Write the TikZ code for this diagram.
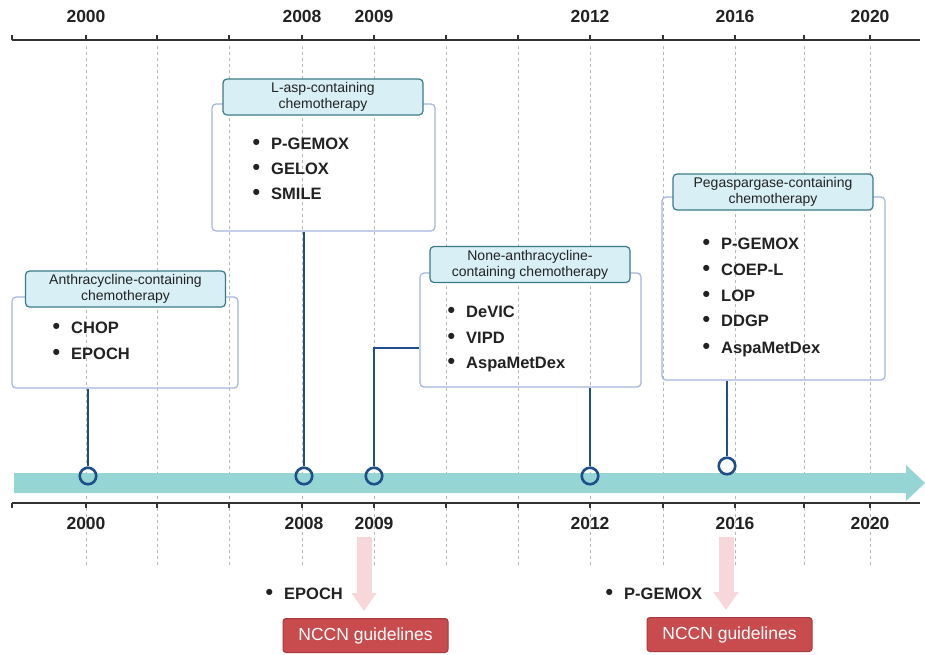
\documentclass[tikz,border=0pt]{standalone}
\usepackage{fontspec}
\setmainfont{Liberation Sans}
\usetikzlibrary{calc,arrows.meta}
\definecolor{barteal}{HTML}{95D5D3}
\definecolor{stemblue}{HTML}{1E4F8A}
\definecolor{boxline}{HTML}{A3B5DC}
\definecolor{headfill}{HTML}{D8EFF5}
\definecolor{headline}{HTML}{3B7B86}
\definecolor{gridgray}{HTML}{B8B8B8}
\definecolor{axisdark}{HTML}{333333}
\definecolor{txt}{HTML}{222222}
\definecolor{pinkarr}{HTML}{F8D7DA}
\definecolor{nccnfill}{HTML}{C84B4E}
\definecolor{nccnline}{HTML}{A8393C}
\begin{document}
\begin{tikzpicture}[x=1pt,y=-1pt,
  gridline/.style={gridgray, line width=0.8pt, dash pattern=on 3pt off 3pt},
  axisline/.style={axisdark, line width=1.4pt},
  year/.style={anchor=base, text=txt, font=\bfseries\fontsize{17.5}{20}\selectfont, inner sep=0pt},
  stem/.style={stemblue, line width=2.8pt},
  dot/.style={circle, draw=stemblue, line width=2.6pt, minimum size=16.5pt, inner sep=0pt},
  groupbox/.style={draw=boxline, line width=1.2pt, rounded corners=4pt, inner sep=0pt},
  headbox/.style={draw=headline, fill=headfill, line width=1.2pt, rounded corners=4pt, inner sep=0pt,
     minimum width=200pt, minimum height=36pt, align=center, text=txt,
     font=\fontsize{14}{16}\selectfont},
  item/.style={anchor=base west, text=txt, inner sep=0pt, font=\bfseries\fontsize{16.5}{19}\selectfont},
  pinkarrow/.style={pinkarr, line width=15pt, -{Triangle[width=24pt,length=18pt]}},
  nccn/.style={draw=nccnline, fill=nccnfill, line width=1pt, rounded corners=3pt, text=white,
     minimum width=165pt, minimum height=34pt, inner sep=0pt, font=\fontsize{17.5}{20}\selectfont},
]
\newcommand{\bul}{\llap{\raisebox{-0.5pt}{\scalebox{1.3}{\textbullet}}\hspace{11pt}}}
\useasboundingbox (0,0) rectangle (925,654);
\fill[white] (0,0) rectangle (925,654);

% grid
\foreach \x in {86,157,229,302,374,446,518,590,663,735,804,870}
  \draw[gridline] (\x,46) -- (\x,568);

% top axis
\draw[axisline] (12,40) -- (920,40);
\foreach \x in {12,86,157,229,302,374,446,518,590,663,735,804,870}
  \draw[axisline] (\x,35) -- (\x,40);
% bottom axis
\draw[axisline] (12,503) -- (920,503);
\foreach \x in {12,86,157,229,302,374,446,518,590,663,735,804,870}
  \draw[axisline] (\x,503) -- (\x,508);

% year labels
\node[year] (t2000) at (86,22.5) {2000};
\node[year] (t2008) at (302,22.5) {2008};
\node[year] (t2009) at (374,22.5) {2009};
\node[year] (t2012) at (590,22.5) {2012};
\node[year] (t2016) at (735,22.5) {2016};
\node[year] (t2020) at (870,22.5) {2020};
\node[year] (b2000) at (86,529) {2000};
\node[year] (b2008) at (304,529) {2008};
\node[year] (b2009) at (374,529) {2009};
\node[year] (b2012) at (590,529) {2012};
\node[year] (b2016) at (735,529) {2016};
\node[year] (b2020) at (870,529) {2020};

% teal bar
\fill[barteal] (14,473) -- (906,473) -- (906,465) -- (925,483) -- (906,501) -- (906,493) -- (14,493) -- cycle;

% boxes
\node[groupbox, minimum width=226pt, minimum height=91pt] (box1) at (125,342.5) {};
\node[groupbox, minimum width=223pt, minimum height=127pt] (box2) at (323.5,167.5) {};
\node[groupbox, minimum width=221pt, minimum height=114pt] (box3) at (530.5,330) {};
\node[groupbox, minimum width=223pt, minimum height=183pt] (box4) at (773.5,288.5) {};

\node[headbox] (h1) at (125.5,289) {Anthracycline-containing\\chemotherapy};
\node[headbox] (h2) at (323,97) {L-asp-containing\\chemotherapy};
\node[headbox] (h3) at (530,264.5) {None-anthracycline-\\containing chemotherapy};
\node[headbox] (h4) at (773,192) {Pegaspargase-containing\\chemotherapy};

% items
\node[item] (i11) at (71,333) {\bul CHOP};
\node[item] (i12) at (71,359) {\bul EPOCH};
\node[item] (i21) at (271,149) {\bul P-GEMOX};
\node[item] (i22) at (271,174) {\bul GELOX};
\node[item] (i23) at (271,199) {\bul SMILE};
\node[item] (i31) at (466,317) {\bul DeVIC};
\node[item] (i32) at (466,343) {\bul VIPD};
\node[item] (i33) at (466,368) {\bul AspaMetDex};
\node[item] (i41) at (721,249) {\bul P-GEMOX};
\node[item] (i42) at (721,275) {\bul COEP-L};
\node[item] (i43) at (721,301) {\bul LOP};
\node[item] (i44) at (721,326) {\bul DDGP};
\node[item] (i45) at (721,353) {\bul AspaMetDex};

% circles
\node[dot] (c2000) at (88,476) {};
\node[dot] (c2008) at (304,476) {};
\node[dot] (c2009) at (374,476) {};
\node[dot] (c2012) at (590,476) {};
\node[dot] (c2016) at (727,466) {};

% stems
\draw[stem] (c2000.north) -- (c2000.north |- box1.south);
\draw[stem] (c2008.north) -- (c2008.north |- box2.south);
\draw[stem] (c2009.north) |- ($(box3.west)+(0,18)$);
\draw[stem] (c2012.north) -- (c2012.north |- box3.south);
\draw[stem] (c2016.north) -- (c2016.north |- box4.south);

% bottom
\node[item] (e1) at (284,599) {\bul EPOCH};
\node[item] (e2) at (624,599) {\bul P-GEMOX};
\node[nccn] (n1) at (365.5,635.5) {NCCN guidelines};
\node[nccn] (n2) at (729.5,634.5) {NCCN guidelines};
\coordinate (p1) at (364,537);
\coordinate (p2) at (726,537);
\draw[pinkarrow, shorten >=7pt] (p1) -- (p1 |- n1.north);
\draw[pinkarrow, shorten >=7pt] (p2) -- (p2 |- n2.north);
\end{tikzpicture}
\end{document}
